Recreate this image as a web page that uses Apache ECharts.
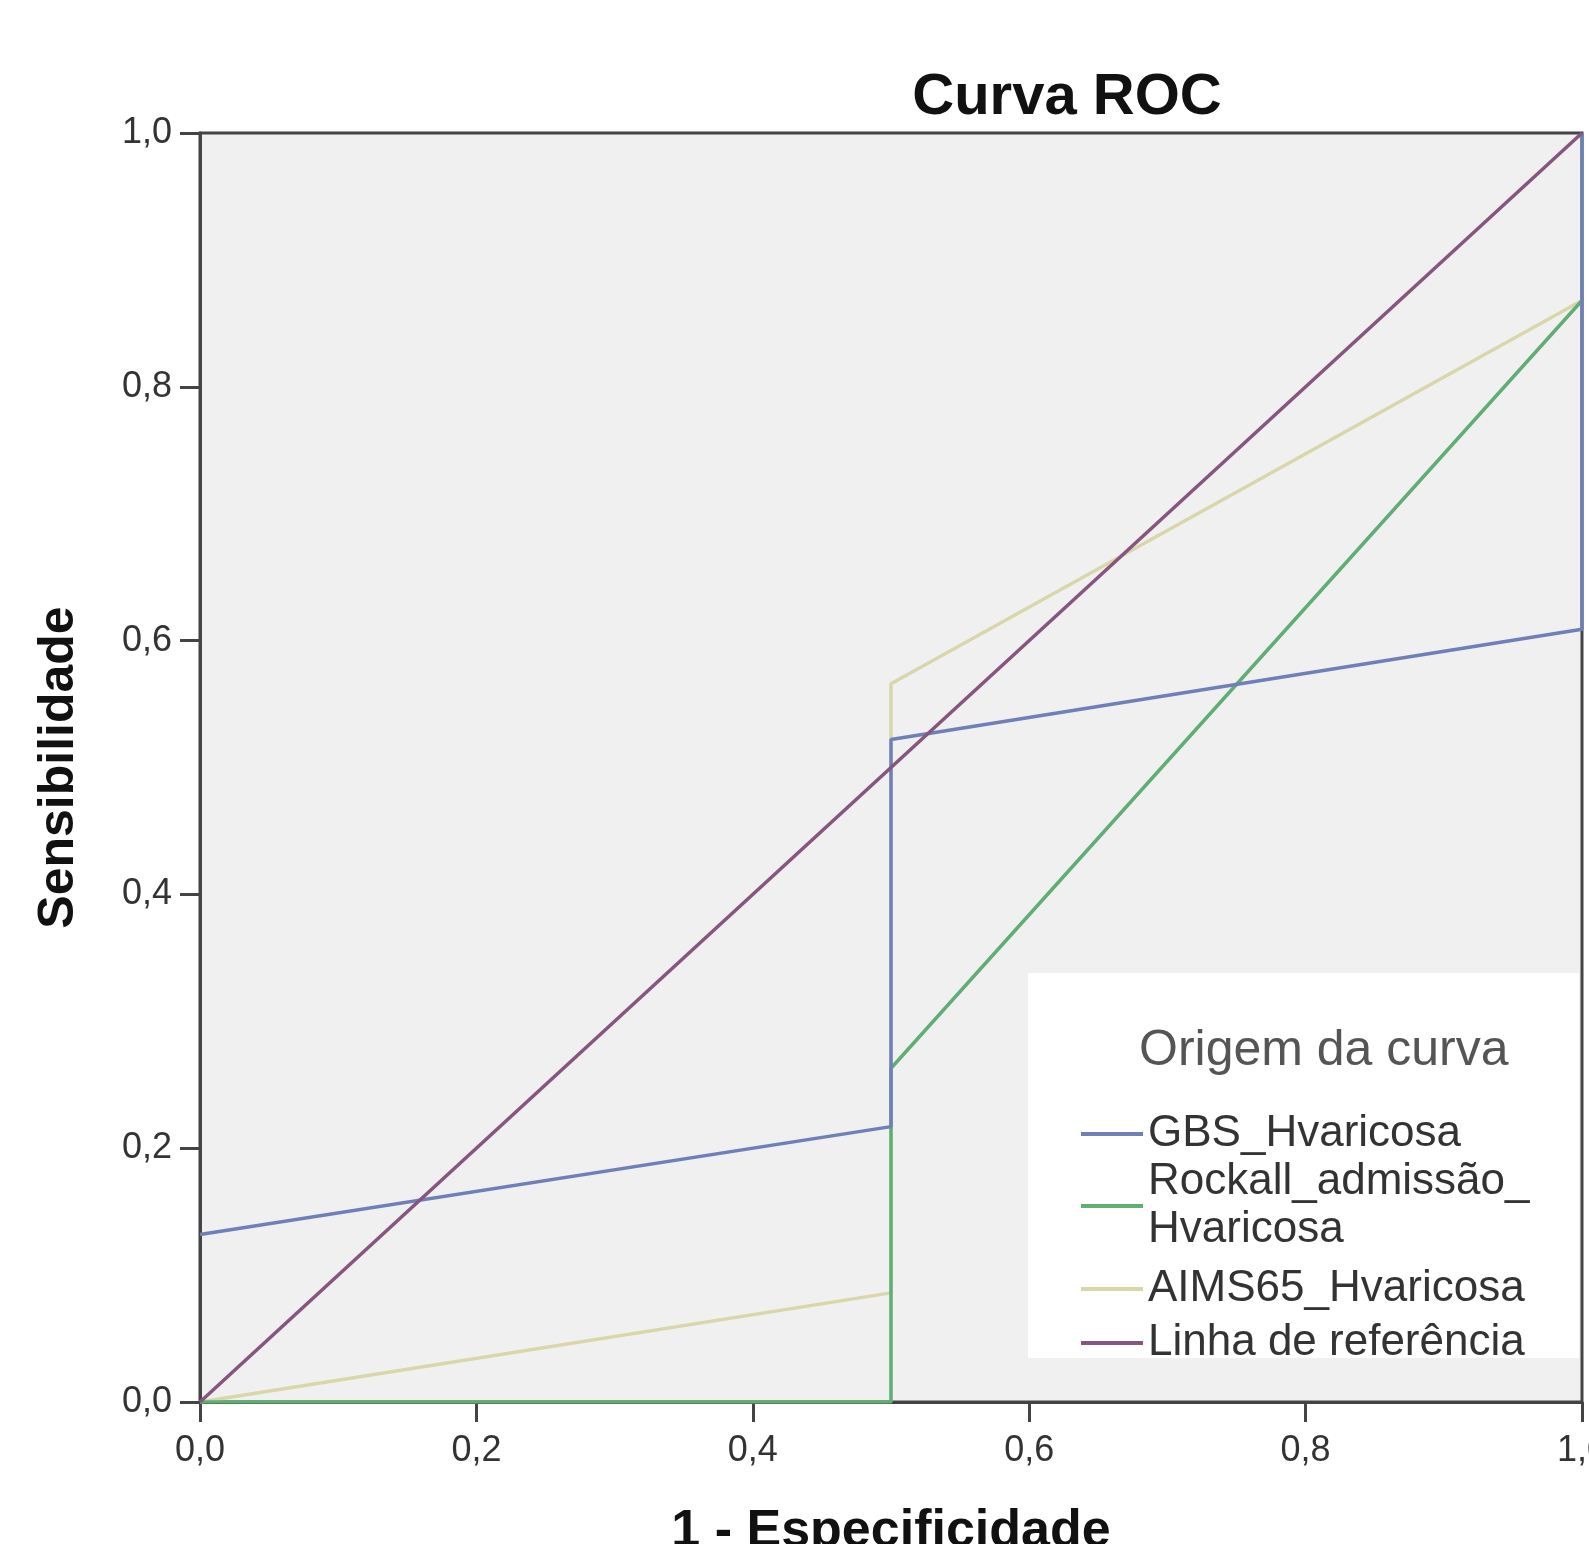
<!DOCTYPE html>
<html>
<head>
<meta charset="utf-8">
<title>Curva ROC</title>
<script src="https://cdn.jsdelivr.net/npm/echarts@6/dist/echarts.min.js"></script>
<style>
    html, body { margin: 0; padding: 0; background: #fff; }
    #roc { width: 1589px; height: 1544px; }
</style>
</head>
<body>
<div id="roc"></div>
<script>
// pontos (1 - especificidade, sensibilidade)
var gbsX = [0, 0.5, 0.5, 1, 1];
var gbsY = [0.132, 0.217, 0.522, 0.609, 1];
var rockallX = [0, 0.5, 0.5, 1, 1];
var rockallY = [0, 0, 0.263, 0.868, 1];
var aimsX = [0, 0.5, 0.5, 1, 1];
var aimsY = [0, 0.086, 0.566, 0.868, 1];
var refX = [0, 1];
var refY = [0, 1];

var xTicks = [0, 0.2, 0.4, 0.6, 0.8, 1];
var yTicks = [0, 0.2, 0.4, 0.6, 0.8, 1];

var names = ['GBS_Hvaricosa', 'Rockall_admissão_Hvaricosa', 'AIMS65_Hvaricosa', 'Linha de referência'];
var colors = ['#6f7fb8', '#5fae74', '#d9d7aa', '#87557f'];

function pairs(xs, ys) {
    return xs.map(function (x, i) { return [x, ys[i]]; });
}

function virgula(v) {
    return v.toFixed(1).replace('.', ',');
}

var chart = echarts.init(document.getElementById('roc'));

// legendas separadas para poder posicionar cada item como no SPSS
function legendItem(name, top, lineHeight) {
    return {
        data: [name],
        orient: 'vertical',
        left: 1081,
        top: top,
        padding: 0,
        icon: 'rect',
        itemWidth: 62,
        itemHeight: 4,
        selectedMode: false,
        formatter: function (n) {
            return n === 'Rockall_admissão_Hvaricosa' ? 'Rockall_admissão_\nHvaricosa' : n;
        },
        textStyle: {
            fontSize: 44,
            lineHeight: lineHeight,
            color: '#333',
            fontFamily: 'Liberation Sans'
        }
    };
}

var option = {
    animation: false,
    textStyle: { fontFamily: 'Liberation Sans, Arial, sans-serif' },
    grid: {
        left: 200,
        top: 133,
        right: 7,
        bottom: 142,
        outerBoundsMode: 'none',
        containLabel: false,
        show: true,
        backgroundColor: '#f0f0f0',
        borderColor: '#444',
        borderWidth: 3
    },
    graphic: [
        {
            type: 'text',
            x: 1067,
            y: 98,
            style: {
                text: 'Curva ROC',
                fontSize: 58,
                fontWeight: 'bold',
                fontFamily: 'Liberation Sans',
                fill: '#111',
                align: 'center',
                verticalAlign: 'middle'
            }
        },
        {
            type: 'rect',
            z: 3,
            shape: { x: 1028, y: 973, width: 551, height: 385 },
            style: { fill: '#fff' }
        },
        {
            type: 'text',
            z: 4,
            x: 1139,
            y: 1051,
            style: {
                text: 'Origem da curva',
                fontSize: 50,
                fontFamily: 'Liberation Sans',
                fill: '#555',
                align: 'left',
                verticalAlign: 'middle'
            }
        }
    ],
    legend: [
        legendItem(names[0], 1111, 46),
        legendItem(names[1], 1158, 48),
        legendItem(names[2], 1266, 46),
        legendItem(names[3], 1320, 46)
    ],
    xAxis: {
        type: 'value',
        min: 0,
        max: 1,
        interval: 0.2,
        name: '1 - Especificidade',
        nameLocation: 'middle',
        nameGap: 104,
        nameTextStyle: { fontSize: 52, fontWeight: 'bold', color: '#111' },
        axisLine: { show: true, lineStyle: { color: '#444', width: 3 } },
        axisTick: { show: true, inside: false, length: 20, lineStyle: { color: '#444', width: 3 } },
        axisLabel: {
            margin: 31,
            fontSize: 36,
            color: '#333',
            formatter: virgula,
            customValues: xTicks
        },
        splitLine: { show: false }
    },
    yAxis: {
        type: 'value',
        min: 0,
        max: 1,
        interval: 0.2,
        name: 'Sensibilidade',
        nameLocation: 'middle',
        nameGap: 116,
        nameTextStyle: { fontSize: 50, fontWeight: 'bold', color: '#111' },
        axisLine: { show: true, lineStyle: { color: '#444', width: 3 } },
        axisTick: { show: true, inside: false, length: 20, lineStyle: { color: '#444', width: 3 } },
        axisLabel: {
            margin: 28,
            fontSize: 36,
            color: '#333',
            padding: [12, 0, 0, 0],
            formatter: virgula,
            customValues: yTicks
        },
        splitLine: { show: false }
    },
    series: [
        {
            name: names[2],
            type: 'line',
            showSymbol: false,
            symbol: 'none',
            data: pairs(aimsX, aimsY),
            lineStyle: { color: colors[2], width: 3.5 },
            itemStyle: { color: colors[2] }
        },
        {
            name: names[1],
            type: 'line',
            showSymbol: false,
            symbol: 'none',
            data: pairs(rockallX, rockallY),
            lineStyle: { color: colors[1], width: 3.5 },
            itemStyle: { color: colors[1] }
        },
        {
            name: names[0],
            type: 'line',
            showSymbol: false,
            symbol: 'none',
            data: pairs(gbsX, gbsY),
            lineStyle: { color: colors[0], width: 3.5 },
            itemStyle: { color: colors[0] }
        },
        {
            name: names[3],
            type: 'line',
            showSymbol: false,
            symbol: 'none',
            data: pairs(refX, refY),
            lineStyle: { color: colors[3], width: 3.5 },
            itemStyle: { color: colors[3] }
        }
    ]
};

chart.setOption(option);

window.addEventListener('resize', function () {
    chart.resize();
});
</script>
</body>
</html>
